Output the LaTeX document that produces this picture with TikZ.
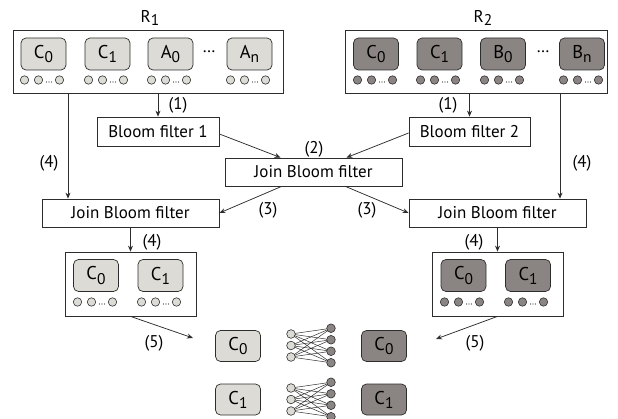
\documentclass[tikz,border=0pt]{standalone}
\usepackage{fontspec}
\setmainfont{PT Sans}
\usetikzlibrary{arrows.meta,calc}
\definecolor{lightg}{RGB}{220,219,213}
\definecolor{darkg}{RGB}{138,133,131}
\definecolor{edgeg}{RGB}{45,45,45}
\newcommand\sbs[1]{\raisebox{-0.45ex}{\fontsize{15.5}{15.5}\selectfont #1}}
\newcommand\cellrow[3]{%
  \draw[circ,fill=#3] (#1+3.5,#2) circle (4.2);
  \draw[circ,fill=#3] (#1+17.5,#2) circle (4.2);
  \draw[circ,fill=#3] (#1+38.5,#2) circle (4.2);
  \fill[edgeg] (#1+25.5,#2+2) circle (0.55) (#1+28,#2+2) circle (0.55) (#1+30.5,#2+2) circle (0.55);
}
\tikzset{
  circ/.style={draw=edgeg, line width=0.6pt},
  lbox/.style={draw=edgeg, fill=lightg, rounded corners=5pt, minimum width=45pt, minimum height=32pt, inner sep=0pt, line width=0.7pt, font=\fontsize{18.5}{20}\selectfont},
  dbox/.style={lbox, fill=darkg},
  rect/.style={draw=edgeg, line width=0.8pt, inner sep=0pt, font=\fontsize{17}{20}\selectfont},
  arr/.style={-{Stealth[length=6pt,width=5pt]}, line width=0.75pt, draw=edgeg},
  lab/.style={font=\fontsize{17}{20}\selectfont, inner sep=0pt},
  bip/.style={line width=0.5pt, draw=edgeg}
}
\begin{document}
\begin{tikzpicture}[x=1pt,y=-1pt]
\useasboundingbox (0,0) rectangle (618,419);
% R1
\node[lab] (r1lab) at (150,18) {R\sbs{1}};
\node[rect, minimum width=270pt, minimum height=63pt] (R1) at (148,61.5) {};
\node[lbox] (a1) at (43.5,54) {C\sbs{0}};
\node[lbox] (a2) at (107.5,54) {C\sbs{1}};
\node[lbox] (a3) at (170.5,54) {A\sbs{0}};
\node[lbox] (a4) at (249.5,54) {A\sbs{n}};
\node[lab] (adots) at (209,52) {\ldots};
\cellrow{21}{80}{lightg}
\cellrow{85}{80}{lightg}
\cellrow{148}{80}{lightg}
\cellrow{227}{80}{lightg}
% R2
\node[lab] (r2lab) at (483,18) {R\sbs{2}};
\node[rect, minimum width=262pt, minimum height=63pt] (R2) at (476,61.5) {};
\node[dbox] (b1) at (376,54) {C\sbs{0}};
\node[dbox] (b2) at (439.5,54) {C\sbs{1}};
\node[dbox] (b3) at (503,54) {B\sbs{0}};
\node[dbox] (b4) at (582,54) {B\sbs{n}};
\node[lab] (bdots) at (543,52) {\ldots};
\cellrow{354}{80}{darkg}
\cellrow{417}{80}{darkg}
\cellrow{481}{80}{darkg}
\cellrow{560}{80}{darkg}
% Bloom filters
\node[rect, minimum width=122pt, minimum height=29pt] (bf1) at (158,131.5) {Bloom filter 1};
\node[rect, minimum width=121pt, minimum height=29pt] (bf2) at (469.5,131.5) {Bloom filter 2};
\node[rect, minimum width=177pt, minimum height=28pt] (cj) at (313.5,172) {Join Bloom filter};
\node[rect, minimum width=177pt, minimum height=28pt] (jl) at (130.5,213) {Join Bloom filter};
\node[rect, minimum width=177pt, minimum height=28pt] (jr) at (497.5,213) {Join Bloom filter};
% lower boxes
\node[rect, minimum width=131pt, minimum height=64pt] (ll) at (130.5,284) {};
\node[lbox] (l1) at (96,275.5) {C\sbs{0}};
\node[lbox] (l2) at (160.5,275.5) {C\sbs{1}};
\cellrow{74}{302}{lightg}
\cellrow{138}{302}{lightg}
\node[rect, minimum width=131pt, minimum height=64pt] (lr) at (497.5,284) {};
\node[dbox] (m1) at (463.5,275.5) {C\sbs{0}};
\node[dbox] (m2) at (528,275.5) {C\sbs{1}};
\cellrow{441}{302}{darkg}
\cellrow{505}{302}{darkg}
% bottom
\node[lbox, minimum height=31pt] (lc0) at (238,346) {C\sbs{0}};
\node[lbox, minimum height=31pt] (lc1) at (238,399.5) {C\sbs{1}};
\node[dbox, minimum height=31pt] (dc0) at (384,346) {C\sbs{0}};
\node[dbox, minimum height=31pt] (dc1) at (384,399.5) {C\sbs{1}};
% bipartite graphs
\foreach \yc in {345.5,399.5}{
  \foreach \i in {-1,0,1}{
    \foreach \j in {-1.5,-0.5,0.5,1.5}{
      \draw[bip] (291,\yc+11.5*\i) -- (331,\yc+11.5*\j);
    }
  }
  \foreach \i in {-1,0,1}{\draw[circ,fill=lightg] (291,\yc+11.5*\i) circle (4.3);}
  \foreach \j in {-1.5,-0.5,0.5,1.5}{\draw[circ,fill=darkg] (331,\yc+11.5*\j) circle (4.3);}
}
% connectors
\draw[arr] (R1.south -| bf1.north) -- (bf1.north);
\draw[arr] (R2.south -| bf2.north) -- (bf2.north);
\coordinate (v1) at (68,93);
\coordinate (v2) at (560,93);
\draw[arr] (v1) -- (v1 |- jl.north);
\draw[arr] (v2) -- (v2 |- jr.north);
\draw[arr] ($(bf1.east)+(0,2.5)$) -- ($(cj.north west)+(56,0)$);
\draw[arr] ($(bf2.west)+(0,1.5)$) -- ($(cj.north east)+(-56,0)$);
\draw[arr] ($(cj.south west)+(57,0)$) -- (jl.east);
\draw[arr] ($(cj.south east)+(-57,0)$) -- (jr.west);
\draw[arr] (jl.south) -- (ll.north);
\draw[arr] (jr.south) -- (lr.north);
\coordinate (e5l) at (193,338);
\coordinate (e5r) at (436,339);
\draw[arr] (ll.south) -- (e5l);
\draw[arr] (lr.south) -- (e5r);
% labels
\node[lab] (t1a) at (178,105) {(1)};
\node[lab] (t1b) at (448,105) {(1)};
\node[lab] (t2) at (314,149) {(2)};
\node[lab] (t4a) at (49,163) {(4)};
\node[lab] (t4b) at (582,163) {(4)};
\node[lab] (t3a) at (268,210) {(3)};
\node[lab] (t3b) at (367,210) {(3)};
\node[lab] (t4c) at (152,242) {(4)};
\node[lab] (t4d) at (474,242) {(4)};
\node[lab] (t5a) at (154,343) {(5)};
\node[lab] (t5b) at (475,343) {(5)};
\end{tikzpicture}
\end{document}
